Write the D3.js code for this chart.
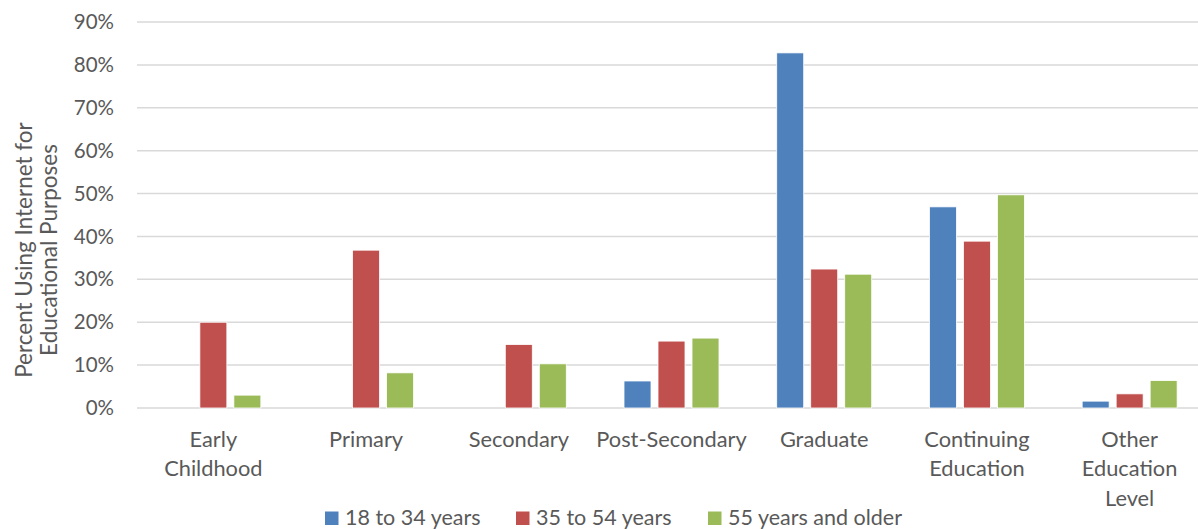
<!DOCTYPE html>
<html>
<head>
<meta charset="utf-8">
<title>Internet use for educational purposes</title>
<script src="https://cdn.jsdelivr.net/npm/d3@7"></script>
<style>
  html, body { margin: 0; padding: 0; background: #fff; }
  svg text { font-family: Lato, "Open Sans", sans-serif; fill: #595959; }
</style>
</head>
<body>
<svg id="chart" width="1198" height="529"></svg>
<script>
// categories (split into the lines shown under the axis)
var categories = ["Early Childhood", "Primary", "Secondary", "Post-Secondary", "Graduate", "Continuing Education", "Other Education Level"];
var categoryLines = [["Early", "Childhood"], ["Primary"], ["Secondary"], ["Post-Secondary"], ["Graduate"], ["Continuing", "Education"], ["Other", "Education", "Level"]];

var seriesNames = ["18 to 34 years", "35 to 54 years", "55 years and older"];
var seriesColors = ["#4f81bd", "#c0504d", "#9bbb59"];

// percent values (null = no bar)
var young = [null, null, null, 6.3, 82.8, 46.9, 1.6];
var middle = [20.0, 36.8, 14.8, 15.6, 32.4, 38.9, 3.3];
var older = [3.0, 8.2, 10.3, 16.3, 31.2, 49.7, 6.4];

var yTicks = [0, 10, 20, 30, 40, 50, 60, 70, 80, 90];
var yTitle = ["Percent Using Internet for", "Educational Purposes"];

var seriesValues = [young, middle, older];

var svg = d3.select("#chart");

var x0 = d3.scaleBand().domain(categories).range([137, 1206]).paddingInner(0).paddingOuter(0);
var y = d3.scaleLinear().domain([0, 90]).range([408, 22]);

var groupW = x0.bandwidth() * 0.622;
var x1 = d3.scaleBand().domain(seriesNames).range([-groupW / 2, groupW / 2]).paddingInner(0.206).paddingOuter(0);

// gridlines
svg.append("g").selectAll("line").data(yTicks).enter().append("line")
  .attr("x1", 137).attr("x2", 1198)
  .attr("y1", function(d) { return y(d); })
  .attr("y2", function(d) { return y(d); })
  .attr("stroke", "#d9d9d9").attr("stroke-width", 1.5);

// y tick labels
var yAxis = d3.axisLeft(y).tickValues(yTicks).tickSize(0).tickPadding(0)
  .tickFormat(function(d) { return d + "%"; });
var ya = svg.append("g").attr("transform", "translate(114,0)").call(yAxis);
ya.select(".domain").remove();
ya.selectAll("text").style("font-size", "20.5px").style("fill", "#595959")
  .style("font-family", "Lato, 'Open Sans', sans-serif");

// y title
svg.append("text")
  .attr("transform", "translate(24,250) rotate(-90)")
  .attr("text-anchor", "middle")
  .style("font-size", "22.5px")
  .selectAll("tspan").data(yTitle).enter().append("tspan")
  .attr("x", 0)
  .attr("dy", function(d, i) { return i === 0 ? "0.35em" : 25; })
  .text(function(d) { return d; });

// bars
seriesValues.forEach(function(vals, si) {
  svg.append("g").selectAll("rect")
    .data(vals.map(function(v, i) { return {cat: categories[i], v: v}; }).filter(function(d) { return d.v !== null; }))
    .enter().append("rect")
    .attr("x", function(d) { return x0(d.cat) + x0.bandwidth() / 2 + x1(seriesNames[si]); })
    .attr("width", x1.bandwidth())
    .attr("y", function(d) { return y(d.v); })
    .attr("height", function(d) { return y(0) - y(d.v); })
    .attr("fill", seriesColors[si])
    .attr("stroke", "#fff").attr("stroke-width", 0.8);
});

// category labels
var cl = svg.append("g").selectAll("text").data(categories).enter().append("text")
  .attr("text-anchor", "middle")
  .attr("x", function(d) { return x0(d) + x0.bandwidth() / 2; })
  .attr("y", 446.5)
  .style("font-size", "21.8px");
cl.selectAll("tspan").data(function(d, i) { return categoryLines[i]; }).enter().append("tspan")
  .attr("x", function() { return d3.select(this.parentNode).attr("x"); })
  .attr("dy", function(d, i) { return i === 0 ? 0 : 29.5; })
  .text(function(d) { return d; });

// legend
var legendX = [325, 516, 708];
var lg = svg.append("g").selectAll("g").data(seriesNames).enter().append("g")
  .attr("transform", function(d, i) { return "translate(" + legendX[i] + ",511.5)"; });
lg.append("rect").attr("width", 13.5).attr("height", 13.5)
  .attr("fill", function(d, i) { return seriesColors[i]; });
lg.append("text").attr("x", 20).attr("y", 13.5)
  .style("font-size", "21.5px")
  .text(function(d) { return d; });
</script>
</body>
</html>
